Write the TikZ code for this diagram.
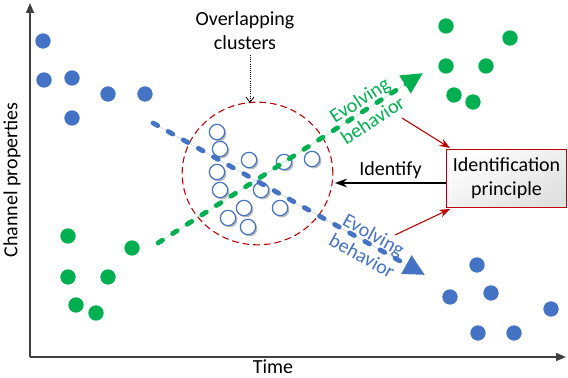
\documentclass[tikz,border=0pt]{standalone}
\usepackage{fontspec}
\setmainfont{Carlito}
\usetikzlibrary{arrows.meta,shadows,shapes.geometric}
\definecolor{cblue}{HTML}{4472C4}
\definecolor{cgreen}{HTML}{00B050}
\definecolor{cred}{HTML}{C00000}
\begin{document}
\begin{tikzpicture}[x=0.75pt,y=-0.75pt,font=\fontsize{15}{18}\selectfont,
  bdot/.style={circle,fill=cblue,minimum size=11.5pt,inner sep=0pt},
  gdot/.style={circle,fill=cgreen,minimum size=11.5pt,inner sep=0pt},
  wdot/.style={circle,draw=cblue,line width=0.9pt,fill=white,minimum size=11.5pt,inner sep=0pt,
    drop shadow={shadow xshift=1.3pt,shadow yshift=-1.3pt,opacity=0.45,fill=black!60}},
  evo/.style={line width=3.6pt,line cap=round,dash pattern=on 4pt off 9pt,
    -{Triangle[length=16pt,width=15pt]}},
  axisline/.style={line width=1.1pt,draw=black!75,-{Triangle[length=7.5pt,width=6pt]}},
  redarrow/.style={draw=cred,line width=0.8pt,-{Stealth[length=8pt,width=6pt]}},
  lbl/.style={align=center,inner sep=0pt}]
\useasboundingbox (0,0) rectangle (568,378);

% axes
\coordinate (O) at (30,357);
\coordinate (ytop) at (30,3);
\coordinate (xend) at (566,357);
\draw[axisline] (O) -- (ytop);
\draw[axisline] (O) -- (xend);
\node[lbl,rotate=90] (ylab) at (12,180) {Channel properties};
\node[lbl] (xlab) at (273,367) {Time};

% blue cluster top-left
\foreach \x/\y [count=\i] in {43/41,44/80,72/78,108/94,145/94,72/118}
  \node[bdot] (b1\i) at (\x,\y) {};
% green cluster bottom-left
\foreach \x/\y [count=\i] in {68/236,68/277,108/277,76/305,96/313,132/248}
  \node[gdot] (g1\i) at (\x,\y) {};
% green cluster top-right
\foreach \x/\y [count=\i] in {446/26,510/38,446/66,486/66,454/95,473/102}
  \node[gdot] (g2\i) at (\x,\y) {};
% blue cluster bottom-right
\foreach \x/\y [count=\i] in {477/265,450/297,491/293,551/309,478/333,514/333}
  \node[bdot] (b2\i) at (\x,\y) {};

% overlapping cluster
\node[ellipse,draw=cred,line width=0.8pt,dash pattern=on 5pt off 3pt,
  minimum width=113pt,minimum height=107pt,inner sep=0pt] (clus) at (257.5,173.5) {};
\foreach \x/\y [count=\i] in {217/132,220/149,217/172,220/190,249/160,284/162,312/159,
  261/190,244/208,280/208,228/218,248/227}
  \node[wdot] (w\i) at (\x,\y) {};

% evolving behaviours
\coordinate (bs) at (153,123);
\coordinate (be) at (425,275);
\coordinate (gs) at (158,243);
\coordinate (ge) at (423,73);
\draw[evo,draw=cblue,fill=cblue] (bs) -- (be);
\draw[evo,draw=cgreen,fill=cgreen] (gs) -- (ge);
\node[lbl,text=cgreen,rotate=33] (gl) at (366,110) {Evolving\\behavior};
\node[lbl,text=cblue,rotate=-29] (bl) at (368,245) {Evolving\\behavior};

% overlapping label
\node[lbl] (ov) at (245,31) {Overlapping\\clusters};
\coordinate (ova) at (250,55);
\coordinate (ovb) at (250,103);
\draw[densely dotted,line width=0.6pt,-{Straight Barb[length=4pt,width=6pt]}] (ova) -- (ovb);

% identification principle
\node[draw=cred,line width=0.8pt,minimum width=90.5pt,minimum height=44pt,align=center,
  inner sep=0pt,shading=axis,top color=white,bottom color=black!12,shading angle=30]
  (box) at (506.5,178.5) {Identification\\principle};
\coordinate (ia) at (446,183);
\coordinate (ib) at (335,183);
\draw[line width=0.8pt,-{Stealth[length=9pt,width=6.5pt]}] (ia) -- (ib)
  node[midway,above=3pt,inner sep=0pt] (idl) {Identify};
\coordinate (ra1) at (402,118);
\coordinate (rb1) at (450,148);
\coordinate (ra2) at (395,235);
\coordinate (rb2) at (450,209);
\draw[redarrow] (ra1) -- (rb1);
\draw[redarrow] (ra2) -- (rb2);
\end{tikzpicture}
\end{document}
